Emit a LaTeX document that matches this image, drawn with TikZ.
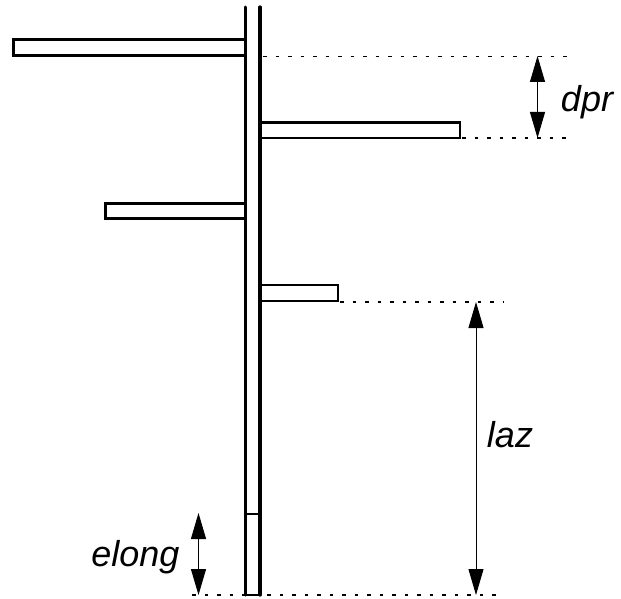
\documentclass[tikz,border=0pt]{standalone}
\usepackage{fontspec}
\setmainfont{Liberation Sans}
\usetikzlibrary{arrows.meta}
\tikzset{
  x=1pt,y=-1pt,
  stemline/.style={line width=3.2pt,line cap=round},
  thickbar/.style={draw,line width=3pt,fill=white,line join=miter},
  thinbar/.style={draw,line width=2.2pt,fill=white,line join=miter},
  guide/.style={line width=1.1pt,dash pattern=on 3.5pt off 9pt},
  dim/.style={line width=1pt,{Stealth[length=26pt,width=15pt,inset=0pt]}-{Stealth[length=26pt,width=15pt,inset=0pt]}},
  lab/.style={font=\fontsize{36}{38}\selectfont\itshape,inner sep=0pt,anchor=base}
}
\begin{document}
\begin{tikzpicture}
\useasboundingbox (0,0) rectangle (621,599);
\fill[white] (0,0) rectangle (621,599);
% guides
\coordinate (g1a) at (263,56.5); \coordinate (g1b) at (567,56.5);
\coordinate (g2a) at (462,138); \coordinate (g2b) at (567,138);
\coordinate (g3a) at (340,302); \coordinate (g3b) at (503,302);
\coordinate (g4a) at (192,595); \coordinate (g4b) at (503,595);
\draw[guide] (g1a) -- (g1b);
\draw[guide] (g2a) -- (g2b);
\draw[guide] (g3a) -- (g3b);
\draw[guide] (g4a) -- (g4b);
% branches
\draw[thickbar] (245,40) -- (13.5,40) -- (13.5,56) -- (245,56);
\draw[thinbar] (260,122.5) -- (460,122.5) -- (460,138) -- (260,138);
\draw[thinbar] (245,203.5) -- (105.5,203.5) -- (105.5,218.5) -- (245,218.5);
\draw[thinbar] (260,285) -- (338,285) -- (338,301) -- (260,301);
% stem
\coordinate (sl) at (245.5,7); \coordinate (sr) at (260,7);
\coordinate (bl) at (245.5,595); \coordinate (br) at (260,595);
\draw[line width=3pt,line cap=round] (sl) -- (bl);
\draw[stemline] (sr) -- (br);
\draw[line width=2.4pt] (bl) -- (br);
\draw[line width=2pt] (245.5,514) -- (260,514);
% dimension arrows
\coordinate (d1) at (537.5,56); \coordinate (d2) at (537.5,138);
\coordinate (l1) at (476,302); \coordinate (l2) at (476,595);
\coordinate (e1) at (198.5,513); \coordinate (e2) at (198.5,595);
\draw[dim] (d1) -- (d2);
\draw[dim] (l1) -- (l2);
\draw[dim] (e1) -- (e2);
% labels
\node[lab] (dpr) at (587,112) {dpr};
\node[lab] (laz) at (510,447) {laz};
\node[lab] (elong) at (135.5,566) {elong};
\end{tikzpicture}
\end{document}
